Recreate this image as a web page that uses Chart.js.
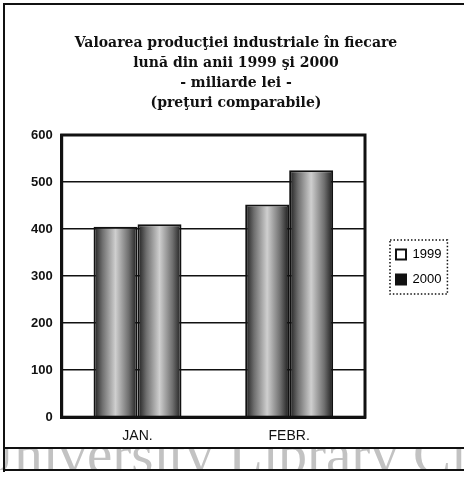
<!DOCTYPE html>
<html>
<head>
<meta charset="utf-8">
<script src="https://cdn.jsdelivr.net/npm/chart.js@4.4.1/dist/chart.umd.min.js"></script>
<style>
body{margin:0;background:#fff;width:464px;height:477px;overflow:hidden;position:relative}
#wmclip{position:absolute;left:0;top:448px;width:464px;height:22px;overflow:hidden}
#wm{position:absolute;left:-27px;top:-23px;font:57px/1 "Liberation Serif",serif;color:#c2c2c2;white-space:nowrap}
#frame{position:absolute;left:3px;top:3px;width:470px;height:442px;border:2px solid #111}
#lineL{position:absolute;left:3px;top:440px;width:2px;height:32px;background:#111}
#lineB{position:absolute;left:3px;top:469px;width:470px;height:2px;background:#111}
#myChart{position:absolute;left:0;top:0}
</style>
</head>
<body>
<div id="wmclip"><div id="wm">University Library Cl</div></div>
<div id="frame"></div>
<div id="lineL"></div>
<div id="lineB"></div>
<canvas id="myChart" width="464" height="477"></canvas>
<script>
const months = ['JAN.', 'FEBR.']
const years = ['1999', '2000']
const v1999 = [405, 452]
const v2000 = [410, 525]
const yMax = 600
const yStep = 100
const legendFill = ['#ffffff', '#111111']

const titleLines = [
  'Valoarea producţiei industriale în fiecare',
  'lună din anii 1999 şi 2000',
  '- miliarde lei -',
  '(preţuri comparabile)'
]

// dark edges, light middle, like the scanned bars
function barFill(c){
  const chart = c.chart
  if(!chart.chartArea) return '#999'
  const xs = chart.scales.x
  const cat = xs.width / months.length
  const w = cat * 0.58 / 2
  const left = xs.getPixelForValue(c.dataIndex) - cat * 0.58 / 2 + c.datasetIndex * w
  const g = chart.ctx.createLinearGradient(left, 0, left + w, 0)
  g.addColorStop(0, '#1a1a1a')
  g.addColorStop(0.2, '#6e6e6e')
  g.addColorStop(0.5, '#cfcfcf')
  g.addColorStop(0.8, '#6e6e6e')
  g.addColorStop(1, '#1a1a1a')
  return g
}

const boxes = {
  id: 'boxes',
  afterInit(chart){
    const lg = chart.legend
    const fit = lg.fit
    lg.fit = function(){ fit.call(this); this.width = 85 }
  },
  afterLayout(chart){
    const lg = chart.legend
    lg.bottom -= 18
    lg.left += 19
    lg.right += 19
  },
  afterDraw(chart){
    const ctx = chart.ctx
    const a = chart.chartArea
    ctx.save()
    ctx.strokeStyle = '#111'
    ctx.lineWidth = 3
    ctx.strokeRect(a.left, a.top, a.right - a.left, a.bottom - a.top)
    const hb = chart.legend.legendHitBoxes
    if(hb && hb.length){
      const x0 = Math.min(...hb.map(h => h.left)) - 6
      const y0 = Math.min(...hb.map(h => h.top)) - 8
      const x1 = Math.max(...hb.map(h => h.left + h.width)) + 6
      const y1 = Math.max(...hb.map(h => h.top + h.height)) + 8
      ctx.lineWidth = 1.5
      ctx.setLineDash([1.5, 2])
      ctx.strokeRect(x0, y0, x1 - x0, y1 - y0)
    }
    ctx.restore()
  }
}

new Chart(document.getElementById('myChart'), {
  type: 'bar',
  data: {
    labels: months,
    datasets: [
      { label: years[0], data: v1999, backgroundColor: barFill, borderColor: '#111', borderWidth: 2 },
      { label: years[1], data: v2000, backgroundColor: barFill, borderColor: '#111', borderWidth: 2 }
    ]
  },
  options: {
    responsive: false,
    animation: false,
    categoryPercentage: 0.58,
    barPercentage: 1,
    layout: { padding: { left: 22, right: 14, top: 0, bottom: 29 } },
    plugins: {
      tooltip: { enabled: false },
      title: {
        display: true,
        text: titleLines,
        color: '#111',
        font: { family: 'DejaVu Serif', size: 14, weight: 'bold', lineHeight: 20 / 14 },
        padding: { top: 33, bottom: 22 }
      },
      legend: {
        position: 'right',
        fullSize: false,
        labels: {
          color: '#111',
          font: { family: 'Liberation Sans', size: 13 },
          boxWidth: 10,
          boxHeight: 10,
          padding: 12,
          generateLabels: chart => years.map((y, i) => ({
            text: y, fillStyle: legendFill[i], strokeStyle: '#111', lineWidth: 2, datasetIndex: i
          }))
        }
      }
    },
    scales: {
      x: {
        grid: { display: false },
        border: { color: '#111', width: 3 },
        ticks: { color: '#111', font: { family: 'Liberation Sans', size: 14 }, padding: 3 }
      },
      y: {
        min: 0,
        max: yMax,
        grid: { color: '#111', lineWidth: 1.5, drawTicks: false },
        border: { color: '#111', width: 3 },
        ticks: { stepSize: yStep, color: '#111', font: { family: 'Liberation Sans', size: 13, weight: 'bold' }, padding: 9 }
      }
    }
  },
  plugins: [boxes]
})
</script>
</body>
</html>
